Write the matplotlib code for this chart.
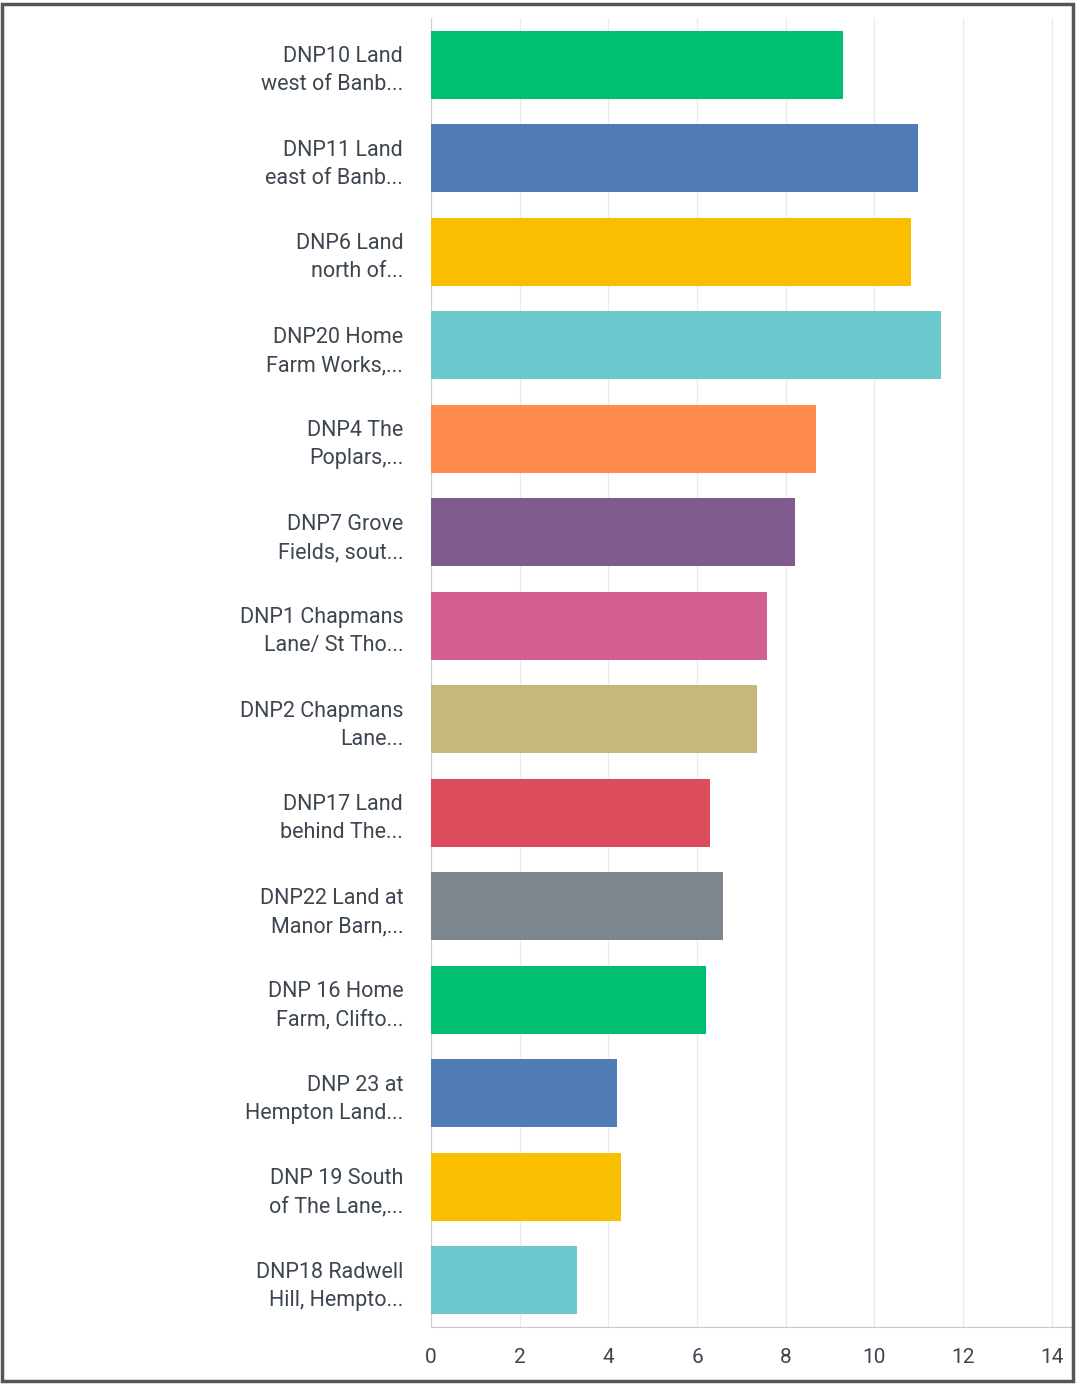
import matplotlib.pyplot as plt
from matplotlib.patches import Rectangle

labels = [
    "DNP10 Land\nwest of Banb...",
    "DNP11 Land\neast of Banb...",
    "DNP6 Land\nnorth of...",
    "DNP20 Home\nFarm Works,...",
    "DNP4 The\nPoplars,...",
    "DNP7 Grove\nFields, sout...",
    "DNP1 Chapmans\nLane/ St Tho...",
    "DNP2 Chapmans\nLane...",
    "DNP17 Land\nbehind The...",
    "DNP22 Land at\nManor Barn,...",
    "DNP 16 Home\nFarm, Clifto...",
    "DNP 23 at\nHempton Land...",
    "DNP 19 South\nof The Lane,...",
    "DNP18 Radwell\nHill, Hempto...",
]
values = [9.29, 10.98, 10.82, 11.50, 8.68, 8.21, 7.57, 7.35, 6.29, 6.58, 6.20, 4.19, 4.28, 3.29]
colors = ["#00BF6F", "#507CB6", "#F9BE00", "#6BC8CD", "#FF8B4F", "#7F5B8F", "#D25F90",
          "#C7B879", "#DB4D5C", "#7D868C", "#00BF6F", "#507CB6", "#F9BE00", "#6BC8CD"]
ticks = [0, 2, 4, 6, 8, 10, 12, 14]

plt.rcParams['font.family'] = ['Roboto', 'DejaVu Sans']

fig = plt.figure(figsize=(10.76, 13.84), dpi=100)
ax = fig.add_axes([431 / 1076, 1 - 1327 / 1384, (1074 - 431) / 1076, (1327 - 18) / 1384])

y = list(range(len(values)))
ax.barh(y, values, height=0.73, color=colors, zorder=3)
ax.set_ylim(len(values) - 0.5, -0.5)
ax.set_xlim(0, 14.5)
ax.set_yticks(y)
ax.set_yticklabels(labels, fontsize=15.5, color="#3d4650", ha="right", linespacing=1.45)
ax.set_xticks(ticks)
ax.set_xticklabels([str(t) for t in ticks], fontsize=15, color="#3d4650")
ax.tick_params(axis="y", length=0, pad=20)
ax.tick_params(axis="x", length=0, pad=15)
ax.grid(axis="x", color="#ebebeb", linewidth=1, zorder=0)
for s in ["top", "right"]:
    ax.spines[s].set_visible(False)
ax.spines["left"].set_color("#d0d0d0")
ax.spines["bottom"].set_color("#c8c8c8")

# outer frame
fig.patches.append(Rectangle((0.002, 0.002), 0.995, 0.995, transform=fig.transFigure,
                             fill=False, edgecolor="#555555", linewidth=2.5))

fig.savefig("out.png", dpi=100)
